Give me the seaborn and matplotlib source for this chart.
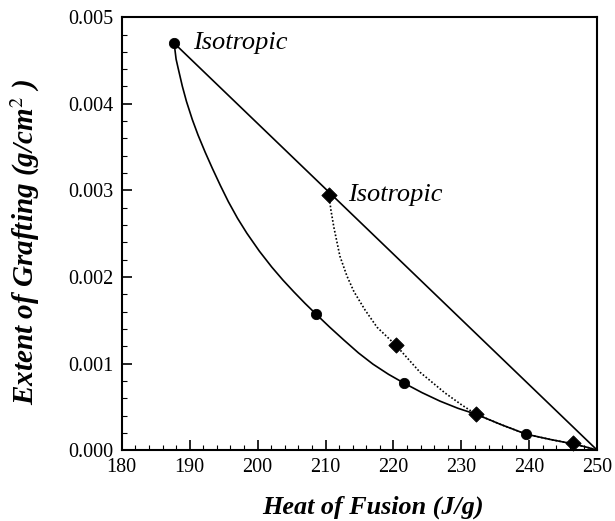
import matplotlib
matplotlib.use("Agg")
import matplotlib.pyplot as plt
import seaborn as sns
from matplotlib.ticker import MultipleLocator, FormatStrFormatter

# ---- data ----
circle_x = [187.71, 208.59, 221.56, 239.53]
circle_y = [0.00470, 0.00157, 0.000774, 0.000185]

diamond_x = [210.50, 220.38, 232.17, 246.46]
diamond_y = [0.00295, 0.00121, 0.000415, 0.00008]

# solid curve through the circles (samples)
solid_x = [187.71, 188.00, 188.30, 188.92, 189.53, 190.39, 191.23, 192.29, 193.34, 194.52,
           195.69, 197.05, 198.42, 200.26, 202.10, 203.73, 205.35, 206.97, 208.59, 210.65,
           212.71, 214.85, 216.99, 219.27, 221.56, 224.21, 226.86, 229.51, 232.17, 235.85,
           239.53, 243.00, 246.46, 248.23, 250.00]
solid_y = [0.004700, 0.004515, 0.004411, 0.004202, 0.004026, 0.003817, 0.003639, 0.003439,
           0.003254, 0.003056, 0.002870, 0.002677, 0.002505, 0.002298, 0.002113, 0.001964,
           0.001827, 0.001696, 0.001572, 0.001418, 0.001271, 0.001123, 0.000993, 0.000876,
           0.000774, 0.000664, 0.000566, 0.000483, 0.000415, 0.000295, 0.000185, 0.000125,
           0.000072, 0.000039, 0.0]

# dotted curve through the diamonds
dot_x = [210.50, 210.80, 211.24, 212.12, 213.16, 214.19, 215.81, 217.58, 220.38,
         223.91, 227.60, 230.10, 232.17, 235.85, 239.53, 243.00, 246.46, 248.23, 250.0]
dot_y = [0.00295, 0.00277, 0.00257, 0.00224, 0.00201, 0.00183, 0.00162, 0.00142, 0.00121,
         0.00090, 0.00066, 0.00052, 0.000415, 0.000295, 0.000185, 0.000125, 0.000072,
         0.000039, 0.0]

# straight tie line
tie_x = [187.71, 250.0]
tie_y = [0.00470, 0.0]

labels = ["Isotropic", "Isotropic"]
label_x = [circle_x[0], diamond_x[0]]
label_y = [circle_y[0], diamond_y[0]]

sns.set_style("white")
plt.rcParams["font.family"] = ["Liberation Serif", "DejaVu Serif"]
plt.rcParams["mathtext.fontset"] = "stix"
plt.rcParams["text.color"] = "black"
plt.rcParams["axes.labelcolor"] = "black"
plt.rcParams["xtick.color"] = "black"
plt.rcParams["ytick.color"] = "black"

fig = plt.figure(figsize=(6.15, 5.21), dpi=100)
ax = fig.add_axes([0.198, 0.136, 0.773, 0.831])

lw = 1.2
sns.lineplot(x=solid_x, y=solid_y, ax=ax, color="black", lw=lw, sort=False, estimator=None)
sns.lineplot(x=dot_x, y=dot_y, ax=ax, color="black", lw=1.2, sort=False, estimator=None,
             linestyle=(0, (1, 1.2)))
sns.lineplot(x=tie_x, y=tie_y, ax=ax, color="black", lw=lw, sort=False, estimator=None)
sns.scatterplot(x=circle_x, y=circle_y, ax=ax, color="black", marker="o", s=55,
                edgecolor="black", zorder=5, clip_on=False)
sns.scatterplot(x=diamond_x, y=diamond_y, ax=ax, color="black", marker="D", s=60,
                edgecolor="black", zorder=5, clip_on=False)

for t, lx, ly in zip(labels, label_x, label_y):
    ax.annotate(t, (lx, ly), xytext=(13.5, 0), textcoords="offset points",
                ha="left", va="center", fontsize=19, style="italic", color="black")

ax.set_xlim(180, 250)
ax.set_ylim(0, 0.005)
ax.xaxis.set_major_locator(MultipleLocator(10))
ax.xaxis.set_minor_locator(MultipleLocator(2))
ax.yaxis.set_major_locator(MultipleLocator(0.001))
ax.yaxis.set_minor_locator(MultipleLocator(0.0002))
ax.yaxis.set_major_formatter(FormatStrFormatter("%.3f"))

ax.tick_params(which="both", direction="in", top=False, right=False, bottom=True, left=True,
               colors="black")
ax.tick_params(which="major", length=7, width=1.2, labelsize=14.5, pad=6)
ax.tick_params(which="minor", length=3.5, width=0.8)

for sp in ax.spines.values():
    sp.set_linewidth(1.5)
    sp.set_color("black")
    sp.set_visible(True)

ax.set_xlabel("Heat of Fusion (J/g)", fontsize=18.8, fontweight="bold", style="italic",
              color="black")
ax.xaxis.set_label_coords(0.528, -0.104)
ax.set_ylabel("Extent of Grafting (g/cm$^{2}$ )", fontsize=21, fontweight="bold",
              style="italic", color="black")
ax.yaxis.set_label_coords(-0.167, 0.48)

fig.savefig("out.png", dpi=100)
